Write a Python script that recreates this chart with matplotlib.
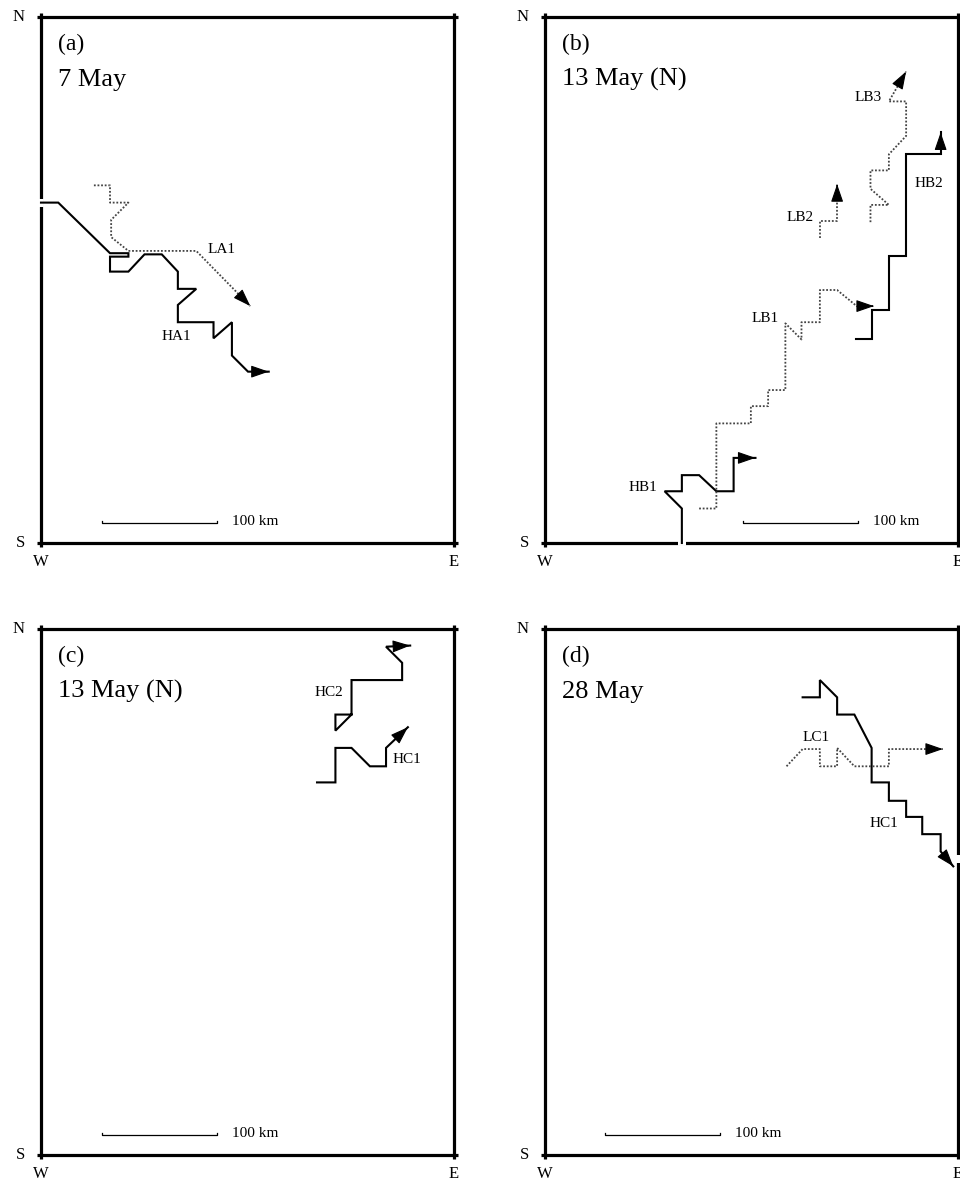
"""Four-panel track map: storm-cell tracks (H*/L*) on a W-E / S-N frame, 100 km scale bar."""
import numpy as np
import matplotlib
matplotlib.use("Agg")
import matplotlib.pyplot as plt
from matplotlib.patches import FancyArrowPatch

plt.rcParams["font.family"] = ["Liberation Serif", "DejaVu Serif"]

W_KM, H_KM = 359.1, 457.4          # frame size in km
PX_PER_KM = 1.15

# ---- track data (km from the SW corner); last point is the arrow tip ----
HA1_X = [0, 15, 60, 76, 76, 60, 60, 76, 90, 105, 119, 119, 135, 119, 119, 150, 150, 166, 166, 180, 198]
HA1_Y = [296, 296, 252, 252, 249, 249, 236, 236, 251, 251, 236, 221, 221, 207, 192, 192, 178, 192, 163, 149, 149]
LA1_X = [46, 60, 60, 76, 61, 61, 76, 135, 182]
LA1_Y = [311, 311, 296, 296, 281, 266, 254, 254, 206]

HB1_X = [119, 119, 104, 119, 119, 134, 149, 164, 164, 183]
HB1_Y = [0, 30, 45, 45, 59, 59, 45, 45, 74, 74]
LB1_X = [134, 149, 149, 179, 179, 194, 194, 209, 209, 223, 223, 239, 239, 254, 271, 286]
LB1_Y = [30, 30, 104, 104, 119, 119, 133, 133, 191, 177, 192, 192, 220, 220, 206, 206]
LB2_X = [239, 239, 254, 254]
LB2_Y = [265, 280, 280, 312]
LB3_X = [283, 283, 299, 283, 283, 299, 299, 314, 314, 299, 314]
LB3_Y = [279, 294, 294, 308, 324, 324, 338, 354, 384, 384, 410]
HB2_X = [270, 284, 284, 299, 299, 314, 314, 344, 344]
HB2_Y = [177, 177, 203, 203, 250, 250, 338, 338, 357]

HC1_X = [240, 256, 256, 270, 286, 300, 300, 319]
HC1_Y = [324, 324, 354, 354, 338, 338, 354, 372]
HC2_X = [270, 256, 256, 270, 270, 314, 314, 300, 321]
HC2_Y = [383, 383, 369, 383, 413, 413, 428, 442, 443]

HD1_X = [224, 239, 239, 254, 254, 269, 284, 284, 299, 299, 314, 314, 328, 328, 344, 344, 355]
HD1_Y = [398, 398, 413, 398, 383, 383, 354, 324, 324, 308, 308, 294, 294, 279, 279, 264, 251]
LC1_X = [210, 224, 239, 239, 254, 254, 269, 299, 299, 346]
LC1_Y = [338, 353, 353, 338, 338, 354, 338, 338, 353, 353]

PANELS = [
    dict(tag="(a)", date="7 May", px=(41, 17), bar_x=53,
         tracks=[("HA1", HA1_X, HA1_Y, "solid", (118, 180)),
                 ("LA1", LA1_X, LA1_Y, "dotted", (157, 255))],
         gaps=[("left", 296)]),
    dict(tag="(b)", date="13 May (N)", px=(545, 17), bar_x=172,
         tracks=[("HB1", HB1_X, HB1_Y, "solid", (85, 48)),
                 ("LB1", LB1_X, LB1_Y, "dotted", (191, 195)),
                 ("LB2", LB2_X, LB2_Y, "dotted", (222, 283)),
                 ("LB3", LB3_X, LB3_Y, "dotted", (281, 387)),
                 ("HB2", HB2_X, HB2_Y, "solid", (334, 313))],
         gaps=[("bottom", 119)]),
    dict(tag="(c)", date="13 May (N)", px=(41, 629), bar_x=53,
         tracks=[("HC1", HC1_X, HC1_Y, "solid", (318, 344)),
                 ("HC2", HC2_X, HC2_Y, "solid", (250, 402))],
         gaps=[]),
    dict(tag="(d)", date="28 May", px=(545, 629), bar_x=52,
         tracks=[("HC1", HD1_X, HD1_Y, "solid", (295, 288)),
                 ("LC1", LC1_X, LC1_Y, "dotted", (236, 363))],
         gaps=[("right", 257)]),
]

FIG_W, FIG_H = 960, 1183
BOX_W, BOX_H = 413, 526


def draw_track(ax, xs, ys, style):
    if style == "solid":
        ax.plot(xs, ys, color="black", lw=1.5, solid_joinstyle="miter", zorder=4, clip_on=False)
    else:
        ax.plot(xs, ys, color="#444444", lw=1.3, ls=(0, (1, 1)), zorder=4, clip_on=False)
    # filled arrow head at the last point
    x0, y0, x1, y1 = xs[-2], ys[-2], xs[-1], ys[-1]
    a = (x1 - 0.08 * (x1 - x0), y1 - 0.08 * (y1 - y0))
    head = FancyArrowPatch(a, (x1, y1), arrowstyle="-|>,head_length=11,head_width=3.8",
                           mutation_scale=1, color="black", lw=0.8, shrinkA=0, shrinkB=0,
                           zorder=5, clip_on=False)
    ax.add_patch(head)


def draw_frame(ax, gaps):
    ext = 4 / PX_PER_KM
    kw = dict(color="black", lw=2.3, solid_capstyle="butt", zorder=2, clip_on=False)
    ax.plot([-ext, W_KM + ext], [0, 0], **kw)
    ax.plot([-ext, W_KM + ext], [H_KM, H_KM], **kw)
    ax.plot([0, 0], [-ext, H_KM + ext], **kw)
    ax.plot([W_KM, W_KM], [-ext, H_KM + ext], **kw)
    g = 3.5
    wk = dict(color="white", lw=4, solid_capstyle="butt", zorder=3, clip_on=False)
    for side, v in gaps:
        if side == "left":
            ax.plot([0, 0], [v - g, v + g], **wk)
        elif side == "right":
            ax.plot([W_KM, W_KM], [v - g, v + g], **wk)
        else:
            ax.plot([v - g, v + g], [0, 0], **wk)


def main():
    fig = plt.figure(figsize=(FIG_W / 100, FIG_H / 100), dpi=100)
    for p in PANELS:
        left, top = p["px"]
        ax = fig.add_axes([left / FIG_W, (FIG_H - top - BOX_H) / FIG_H,
                           BOX_W / FIG_W, BOX_H / FIG_H])
        ax.set_xlim(0, W_KM)
        ax.set_ylim(0, H_KM)
        ax.axis("off")

        draw_frame(ax, p["gaps"])
        for name, xs, ys, style, (lx, ly) in p["tracks"]:
            draw_track(ax, xs, ys, style)
            ax.text(lx, ly, name, fontsize=11, ha="center", va="center", zorder=6)

        # panel tag and date
        ax.text(15, H_KM - 29, p["tag"], fontsize=17, ha="left", va="baseline")
        ax.text(15, H_KM - 60, p["date"], fontsize=19, ha="left", va="baseline")

        # 100 km scale bar
        bx, by, tk = p["bar_x"], 17, 2.2
        ax.plot([bx, bx, bx + 100, bx + 100], [by + tk, by, by, by + tk],
                color="black", lw=0.9, zorder=3)
        ax.text(bx + 113, by + 1.5, "100 km", fontsize=11, ha="left", va="center")

        # compass letters
        ax.text(-16 / PX_PER_KM, H_KM, "N", fontsize=12, ha="right", va="center")
        ax.text(-16 / PX_PER_KM, 0, "S", fontsize=12, ha="right", va="center")
        ax.text(0, -19 / PX_PER_KM, "W", fontsize=12, ha="center", va="center")
        ax.text(W_KM, -19 / PX_PER_KM, "E", fontsize=12, ha="center", va="center")

    fig.savefig("out.png", dpi=100)


if __name__ == "__main__":
    main()
